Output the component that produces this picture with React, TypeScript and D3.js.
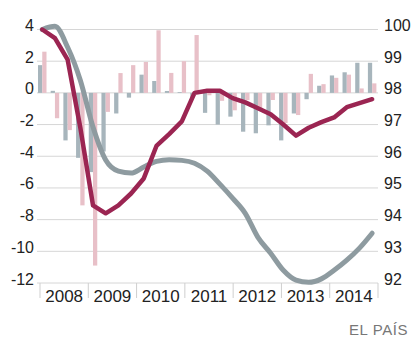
import React from "react";
import * as d3 from "d3";

const quarters: string[] = [
  "2008T1","2008T2","2008T3","2008T4",
  "2009T1","2009T2","2009T3","2009T4",
  "2010T1","2010T2","2010T3","2010T4",
  "2011T1","2011T2","2011T3","2011T4",
  "2012T1","2012T2","2012T3","2012T4",
  "2013T1","2013T2","2013T3","2013T4",
  "2014T1","2014T2","2014T3",
];

const grayBars: number[] = [
  1.75, 0.13, -3.0, -4.1,
  -5.0, -3.7, -1.3, -0.3,
  1.15, 0.75, 0.12, 0.05,
  -0.3, -1.26, -2.0, -1.5,
  -2.45, -2.55, -2.05, -3.0,
  -1.3, -0.4, 0.45, 1.1,
  1.3, 1.9, 1.9,
];

const pinkBars: number[] = [
  2.6, -1.6, -2.35, -7.1,
  -10.9, -1.2, 1.25, 1.75,
  1.95, 3.95, 1.26, 2.0,
  3.65, -0.15, -0.5, -1.1,
  -0.45, -1.0, -0.45, -1.9,
  -1.4, 1.2, 0.55, 0.95,
  1.15, 0.28, 0.6,
];

const maroonLine: number[] = [
  4.0, 3.45, 2.1, -2.2,
  -7.1, -7.6, -7.1, -6.35,
  -5.4, -3.35, -2.6, -1.8,
  0.0, 0.13, 0.13, -0.33,
  -0.6, -0.97, -1.35, -2.0,
  -2.7, -2.2, -1.85, -1.55,
  -0.9, -0.65, -0.4,
];

const grayLine: number[] = [
  100.0, 100.1, 99.44, 98.4,
  96.92, 95.88, 95.53, 95.47,
  95.66, 95.84, 95.89, 95.87,
  95.78, 95.53, 95.12, 94.68,
  94.2, 93.44, 92.94, 92.4,
  92.09, 92.02, 92.13, 92.4,
  92.72, 93.1, 93.57,
];

const leftTicks: number[] = [4, 2, 0, -2, -4, -6, -8, -10, -12];
const rightTicks: number[] = [100, 99, 98, 97, 96, 95, 94, 93, 92];
const years: number[] = [2008, 2009, 2010, 2011, 2012, 2013, 2014];

const FONT = "'Liberation Sans', Arial, sans-serif";

export default function App() {
  const W = 414, H = 345;
  const y = d3.scaleLinear().domain([-12, 4]).range([283, 29.5]);
  const yR = d3.scaleLinear().domain([92, 100]).range([283, 29.5]);
  const x = d3.scaleBand<string>().domain(quarters).range([38, 376.4]).paddingInner(0.33).paddingOuter(0);
  const sub = d3.scaleBand<string>().domain(["g", "p"]).range([0, x.bandwidth()]);
  const xYear = d3.scaleLinear().domain([2008, 2015]).range([40, 378]);
  const cx = (i: number) => (x(quarters[i]) as number) + x.bandwidth() / 2;

  const maroonPath = d3.line<number>().x((_, i) => cx(i)).y((d) => y(d))(maroonLine) as string;
  const grayPath = d3.line<number>().x((_, i) => cx(i)).y((d) => yR(d)).curve(d3.curveMonotoneX)(grayLine) as string;

  return (
    <svg width={W} height={H} style={{ position: "absolute", left: 0, top: 0, background: "#fff" }} fontFamily={FONT}>
      {leftTicks.map((t) => (
        <line key={"g" + t} x1={37} x2={378} y1={y(t)} y2={y(t)} stroke="#d6d6d6" strokeWidth={1} />
      ))}
      {years.concat([2015]).map((yr) => (
        <line key={"s" + yr} x1={xYear(yr)} x2={xYear(yr)} y1={283} y2={298} stroke="#cfcfcf" strokeWidth={1} />
      ))}
      {quarters.map((q, i) => (
        <g key={q}>
          <rect x={(x(q) as number) + (sub("g") as number)} width={sub.bandwidth()}
            y={Math.min(y(grayBars[i]), y(0))} height={Math.abs(y(grayBars[i]) - y(0))} fill="#a7b5bc" />
          <rect x={(x(q) as number) + (sub("p") as number)} width={sub.bandwidth()}
            y={Math.min(y(pinkBars[i]), y(0))} height={Math.abs(y(pinkBars[i]) - y(0))} fill="#e8c0c8" />
        </g>
      ))}
      <path d={grayPath} fill="none" stroke="#8e9ba0" strokeWidth={5} strokeLinejoin="round" strokeLinecap="round" />
      <path d={maroonPath} fill="none" stroke="#9b2552" strokeWidth={4.5} strokeLinejoin="round" strokeLinecap="round" />
      {leftTicks.map((t) => (
        <text key={"l" + t} x={34} y={y(t) + 1.5} textAnchor="end" fontSize={16} fill="#222">{t}</text>
      ))}
      {rightTicks.map((t) => (
        <text key={"r" + t} x={384} y={yR(t) + 1.5} textAnchor="start" fontSize={16} fill="#222">{t}</text>
      ))}
      {years.map((yr) => (
        <text key={"y" + yr} x={xYear(yr + 0.5)} y={302} textAnchor="middle" fontSize={17} fill="#222">{yr}</text>
      ))}
      <text x={349} y={335} fontSize={15} letterSpacing={0.6} fill="#777">EL PAÍS</text>
    </svg>
  );
}
